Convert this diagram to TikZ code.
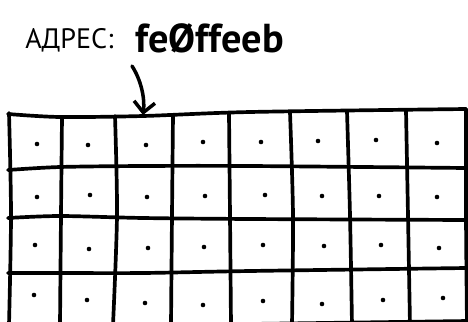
\documentclass[tikz,border=0pt]{standalone}
\usepackage{fontspec}
\setmainfont{PT Sans}
\usetikzlibrary{arrows.meta}
\tikzset{
  gridline/.style={line width=2.1pt,line cap=round,line join=round},
  pointer/.style={line width=2pt,line cap=round,-{Straight Barb[length=6pt,width=12pt,line width=2pt]}},
  celldot/.style={fill=black},
  caption/.style={anchor=base west,inner sep=0pt}
}

\begin{document}
\begin{tikzpicture}[x=0.02cm,y=-0.02cm]
    \useasboundingbox (0,0) rectangle (468,322);
    \clip (0,0) rectangle (468,322);
    \node[caption,font=\fontsize{16}{18}\selectfont] (lbl) at (25,48) {АДРЕС:};
    \node[caption,font=\fontsize{23}{26}\selectfont\bfseries] (addr) at (135,52) {feØffeeb};
    % rows
    \foreach \a/\b/\c/\d/\e in {114/117/116/112/109, 170/167/166/166/168, 218/216/218/219/220, 273/273/273/271/268}
      \draw[gridline] plot[smooth] coordinates {(8,\a) (60,\b) (143,\c) (250,\d) (466,\e)};
    \draw[gridline] (250,324) -- (468,321);
    % columns
    \foreach \t/\a/\b/\c in {113/9/11/9, 117/62/61/60, 116/115/117/113, 115/173/172/171, 113/229/230/231, 112/290/293/292, 111/347/350/352, 110/406/408/410, 109/466/466/467}
      \draw[gridline] plot[smooth] coordinates {(\a,\t) (\b,215) (\c,325)};
    \foreach \p in {(37,144),(88,145),(146,145),(203,142),(261,142),(318,141),(376,140),(437,143),
                    (37,197),(90,195),(147,197),(205,196),(265,195),(322,196),(379,196),(437,197),
                    (35,245),(89,249),(148,248),(204,247),(263,245),(324,246),(381,245),(439,248),
                    (34,295),(87,300),(145,303),(203,305),(263,301),(322,304),(383,300),(443,298)}
      \fill[celldot] \p circle[radius=1.3pt];
    \coordinate (tail) at (132,66);
    \coordinate (cell) at (143,115);
    \draw[pointer] (tail) .. controls (141,80) and (145,98) .. (cell);
\end{tikzpicture}
\end{document}
